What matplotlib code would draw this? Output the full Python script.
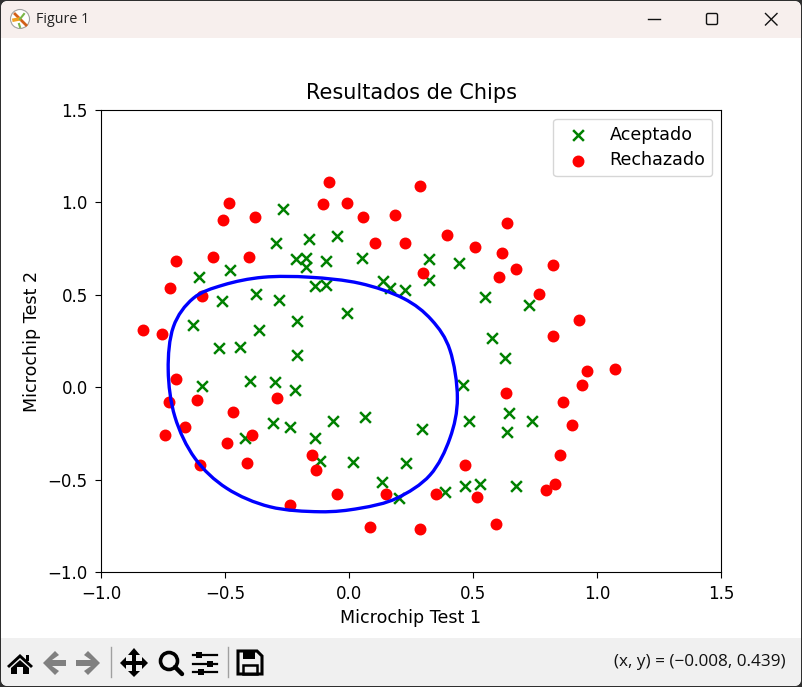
import matplotlib
matplotlib.use("Agg")
import matplotlib.pyplot as plt
from matplotlib.patches import Polygon, Rectangle, Circle, FancyBboxPatch, PathPatch
from matplotlib.path import Path

accepted_x = [0.051267,-0.092742,-0.21371,-0.375,-0.51325,-0.52477,-0.39839,-0.30588,0.016705,0.13191,
              0.38537,0.52938,0.63882,0.73675,0.54666,0.322,0.16647,-0.046659,-0.17339,-0.47869,
              -0.60541,-0.62846,-0.59389,-0.42108,-0.11578,0.20104,0.46601,0.67339,-0.13882,-0.29435,
              -0.26555,-0.16187,-0.17339,-0.28283,-0.36348,-0.30012,-0.23675,-0.06394,0.062788,0.22984,
              0.2932,0.48329,0.64459,0.46025,0.6273,0.57546,0.72523,0.22408,0.44297,0.322,
              0.13767,-0.0063364,-0.092742,-0.20795,-0.20795,-0.43836,-0.21947,-0.13882]
accepted_y = [0.69956,0.68494,0.69225,0.50219,0.46564,0.2098,0.034357,-0.19225,-0.40424,-0.51389,
              -0.56506,-0.5212,-0.24342,-0.18494,0.48757,0.5826,0.53874,0.81652,0.69956,0.63377,
              0.59722,0.33406,0.005117,-0.27266,-0.39693,-0.60161,-0.53582,-0.53582,0.54605,0.77997,
              0.96272,0.8019,0.64839,0.47295,0.31213,0.027047,-0.21418,-0.18494,-0.16301,-0.41155,
              -0.2288,-0.18494,-0.14108,0.012427,0.15863,0.26827,0.44371,0.52412,0.67032,0.69225,
              0.57529,0.39985,0.55336,0.35599,0.17325,0.21711,-0.016813,-0.27266]
rejected_x = [0.18376,0.22408,0.29896,0.50634,0.61578,0.60426,0.76555,0.92684,0.82316,0.96141,
              0.93836,0.86348,0.89804,0.85196,0.82892,0.79435,0.59274,0.51786,0.46601,0.35081,
              0.28744,0.085829,0.14919,-0.13306,-0.40956,-0.39228,-0.74366,-0.69758,-0.75518,-0.69758,
              -0.4038,-0.38076,-0.50749,-0.54781,0.10311,0.057028,-0.10426,-0.081221,0.28744,0.39689,
              0.63882,0.82316,0.67339,1.0709,-0.046659,-0.23675,-0.15035,-0.49021,-0.46717,-0.28859,
              -0.61118,-0.66302,-0.59965,-0.72638,-0.83007,-0.72062,-0.59389,-0.48445,-0.0063364,0.63265]
rejected_y = [0.93348,0.77997,0.61915,0.75804,0.7288,0.59722,0.50219,0.3633,0.27558,0.085526,
              0.012427,-0.082602,-0.20687,-0.36769,-0.52123,-0.55775,-0.7405,-0.5943,-0.41886,-0.57968,
              -0.76974,-0.75512,-0.57968,-0.4481,-0.41155,-0.25804,-0.25804,0.041667,0.2902,0.68494,
              0.70687,0.91886,0.90424,0.70687,0.77997,0.91886,0.99196,1.1089,1.087,0.82383,
              0.88962,0.66301,0.64108,0.10015,-0.57968,-0.63816,-0.36769,-0.3019,-0.13377,-0.060673,
              -0.067982,-0.21418,-0.41886,-0.082602,0.31213,0.53874,0.49488,0.99927,0.99927,-0.030612]
boundary_x = [-0.729,-0.708,-0.628,-0.507,-0.346,-0.157,0.044,0.219,0.333,0.407,0.437,0.407,0.327,
              0.192,0.044,-0.117,-0.319,-0.493,-0.621,-0.702]
boundary_y = [0.093,0.327,0.481,0.553,0.595,0.595,0.562,0.481,0.364,0.201,-0.058,-0.276,-0.475,
              -0.601,-0.655,-0.674,-0.647,-0.547,-0.385,-0.160]

plt.rcParams['font.size'] = 12
W, H = 802, 687
fig = plt.figure(figsize=(W / 100, H / 100), dpi=100, facecolor='#2f2f2f')

# window frame, in pixel coordinates
ui = fig.add_axes([0, 0, 1, 1], zorder=0)
ui.set_xlim(0, W); ui.set_ylim(H, 0); ui.axis('off')
ui.add_patch(FancyBboxPatch((1, 1), W - 2, H - 2, boxstyle='round,pad=0,rounding_size=7',
                            fc='white', ec='none', mutation_aspect=1))
ui.add_patch(FancyBboxPatch((1, 1), W - 2, 45, boxstyle='round,pad=0,rounding_size=7',
                            fc='#f7efed', ec='none'))
ui.add_patch(Rectangle((1, 38), W - 2, 12, fc='white', ec='none'))
ui.add_patch(FancyBboxPatch((1, 650), W - 2, 36, boxstyle='round,pad=0,rounding_size=7',
                            fc='#f0f0f0', ec='none'))
ui.add_patch(Rectangle((1, 638), W - 2, 20, fc='#f0f0f0', ec='none'))

# title bar
ui.add_patch(Circle((20, 19), 9.5, fc='white', ec='#a0a0a0', lw=0.8))
ui.plot([15, 26], [14, 25], color='#d2601a', lw=2)
ui.plot([14, 19], [20, 19], color='#f0a020', lw=2.5)
ui.plot([24, 20], [14, 19], color='#7ab648', lw=1.5)
ui.plot([19, 20], [24, 27], color='#7ab648', lw=1.5)
ui.text(36, 19.5, 'Figure 1', family='Open Sans', fontsize=10.3, va='center', ha='left', color='#222222')
ui.plot([648, 660], [18.5, 18.5], color='#111111', lw=1)
ui.add_patch(FancyBboxPatch((706.5, 13.5), 11, 11, boxstyle='round,pad=0,rounding_size=1.5',
                            fc='none', ec='#111111', lw=1))
ui.plot([765.5, 777], [13.5, 25], color='#111111', lw=1)
ui.plot([765.5, 777], [25, 13.5], color='#111111', lw=1)

# toolbar icons
ui.add_patch(Polygon([(20, 654), (33, 666), (31, 668), (20, 658), (9, 668), (7, 666)], fc='black'))
ui.add_patch(Rectangle((26, 655), 3, 6, fc='black'))
ui.add_patch(Polygon([(20, 660), (29, 668), (29, 674), (23, 674), (23, 667), (17, 667), (17, 674),
                      (11, 674), (11, 668)], fc='black'))
ui.add_patch(Polygon([(43, 663), (55, 651), (59, 655), (52, 660), (66, 660), (66, 666), (52, 666),
                      (59, 671), (55, 675)], fc='#808080'))
ui.add_patch(Polygon([(100, 663), (88, 651), (84, 655), (91, 660), (76, 660), (76, 666), (91, 666),
                      (84, 671), (88, 675)], fc='#808080'))
ui.plot([110.5, 110.5], [647, 677], color='#a0a0a0', lw=1)
ui.add_patch(Polygon([(134, 648), (140, 655), (136, 655), (136, 661), (142, 661), (142, 657), (148, 663),
                      (142, 669), (142, 665), (136, 665), (136, 671), (140, 671), (134, 677), (128, 671),
                      (132, 671), (132, 665), (126, 665), (126, 669), (120, 663), (126, 657), (126, 661),
                      (132, 661), (132, 655), (128, 655)], fc='black'))
ui.add_patch(Circle((169, 661), 8.5, fc='none', ec='black', lw=2.6))
ui.plot([175, 182], [667, 674], color='black', lw=3.2, solid_capstyle='round')
for yy, xx in [(655, 199), (664, 210), (671.5, 201)]:
    ui.plot([193, 217], [yy, yy], color='black', lw=1.6)
    ui.add_patch(Rectangle((xx - 3, yy - 3), 6, 6, fc='black'))
ui.plot([227.5, 227.5], [647, 677], color='#a0a0a0', lw=1)
ui.add_patch(Polygon([(238, 651), (257, 651), (262, 656), (262, 674), (238, 674)], fc='none', ec='black', lw=2.2))
ui.add_patch(Rectangle((243, 651), 12, 8, fc='black'))
ui.add_patch(Rectangle((243, 665), 14, 9, fc='none', ec='black', lw=1.8))
ui.text(786, 662, '(x, y) = (\u22120.008, 0.439)', family='Open Sans', fontsize=12.3,
        va='center', ha='right', color='#111111')

# chart
ax = fig.add_axes([101 / W, (H - 572) / H, 620 / W, 462 / H], zorder=1)
ax.scatter(accepted_x, accepted_y, marker='x', s=60, c='green', linewidths=1.8, label='Aceptado')
ax.scatter(rejected_x, rejected_y, marker='o', s=50, c='red', linewidths=1.5, label='Rechazado')

# the decision boundary as a smooth closed curve through the read points
n = len(boundary_x)
pts = list(zip(boundary_x, boundary_y))
verts, codes = [pts[0]], [Path.MOVETO]
for i in range(n):
    p0, p1, p2, p3 = pts[i - 1], pts[i], pts[(i + 1) % n], pts[(i + 2) % n]
    c1 = (p1[0] + (p2[0] - p0[0]) / 6, p1[1] + (p2[1] - p0[1]) / 6)
    c2 = (p2[0] - (p3[0] - p1[0]) / 6, p2[1] - (p3[1] - p1[1]) / 6)
    verts += [c1, c2, p2]
    codes += [Path.CURVE4] * 3
ax.add_patch(PathPatch(Path(verts, codes), fc='none', ec='blue', lw=2.4, zorder=2))

ax.set_xlim(-1, 1.5)
ax.set_ylim(-1, 1.5)
ax.set_xticks([-1.0, -0.5, 0.0, 0.5, 1.0, 1.5])
ax.set_yticks([-1.0, -0.5, 0.0, 0.5, 1.0, 1.5])
ax.tick_params(length=4.5, pad=5)
ax.set_title('Resultados de Chips', fontsize=15, pad=8)
ax.set_xlabel('Microchip Test 1', fontsize=12.6)
ax.set_ylabel('Microchip Test 2', fontsize=12.6, labelpad=5)
ax.legend(loc='upper right', fontsize=12.6, labelspacing=0.42)

fig.savefig('out.png', dpi=100, facecolor=fig.get_facecolor())
